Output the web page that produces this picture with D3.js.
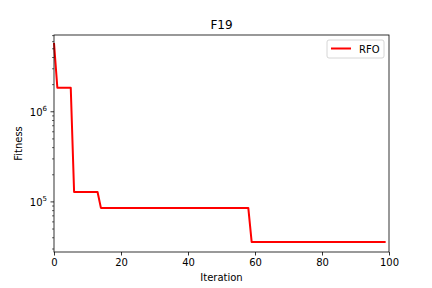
<!DOCTYPE html>
<html>
<head>
<meta charset="utf-8">
<script src="https://cdn.jsdelivr.net/npm/d3@7"></script>
<style>
  body { margin: 0; background: #fff; }
  svg text { font-family: "DejaVu Sans", sans-serif; fill: #000; }
</style>
</head>
<body>
<div id="chart"></div>
<script>
const width = 432, height = 288;
const margin = {left: 54, right: 43, top: 35, bottom: 36};

// fitness per iteration (0..99)
const rfo_fitness = [
  5.8e6,
  1.85e6, 1.85e6, 1.85e6, 1.85e6, 1.85e6,
  1.29e5, 1.29e5, 1.29e5, 1.29e5, 1.29e5, 1.29e5, 1.29e5, 1.29e5,
  8.58e4, 8.58e4, 8.58e4, 8.58e4, 8.58e4, 8.58e4, 8.58e4, 8.58e4, 8.58e4, 8.58e4,
  8.58e4, 8.58e4, 8.58e4, 8.58e4, 8.58e4, 8.58e4, 8.58e4, 8.58e4, 8.58e4, 8.58e4,
  8.58e4, 8.58e4, 8.58e4, 8.58e4, 8.58e4, 8.58e4, 8.58e4, 8.58e4, 8.58e4, 8.58e4,
  8.58e4, 8.58e4, 8.58e4, 8.58e4, 8.58e4, 8.58e4, 8.58e4, 8.58e4, 8.58e4, 8.58e4,
  8.58e4, 8.58e4, 8.58e4, 8.58e4, 8.58e4,
  3.6e4, 3.6e4, 3.6e4, 3.6e4, 3.6e4, 3.6e4, 3.6e4, 3.6e4, 3.6e4, 3.6e4,
  3.6e4, 3.6e4, 3.6e4, 3.6e4, 3.6e4, 3.6e4, 3.6e4, 3.6e4, 3.6e4, 3.6e4,
  3.6e4, 3.6e4, 3.6e4, 3.6e4, 3.6e4, 3.6e4, 3.6e4, 3.6e4, 3.6e4, 3.6e4,
  3.6e4, 3.6e4, 3.6e4, 3.6e4, 3.6e4, 3.6e4, 3.6e4, 3.6e4, 3.6e4, 3.6e4,
  3.6e4
];
const x_ticks = [0, 20, 40, 60, 80, 100];
const y_major = [1e5, 1e6];
const y_exp = ['5', '6'];
const y_minor = [3e4, 4e4, 5e4, 6e4, 7e4, 8e4, 9e4, 2e5, 3e5, 4e5, 5e5, 6e5, 7e5, 8e5, 9e5, 2e6, 3e6, 4e6, 5e6, 6e6, 7e6];

const svg = d3.select('#chart').append('svg')
  .attr('width', width).attr('height', height);

const x0 = margin.left, x1 = width - margin.right;
const y0 = height - margin.bottom, y1 = margin.top;

const xScale = d3.scaleLinear().domain([0, 100]).range([x0, x1]);
const yScale = d3.scaleLog().domain([Math.pow(10, 4.444), Math.pow(10, 6.852)]).range([y0, y1]);

// line
const line = d3.line()
  .x(function(d, i){ return xScale(i); })
  .y(function(d){ return yScale(d); });

svg.append('path')
  .datum(rfo_fitness)
  .attr('d', line)
  .attr('fill', 'none')
  .attr('stroke', '#ff0000')
  .attr('stroke-width', 2)
  .attr('stroke-linejoin', 'round');

// x axis
const xAxis = d3.axisBottom(xScale).tickValues(x_ticks).tickSize(3.5).tickPadding(3.5).tickFormat(d3.format('d'));
const gx = svg.append('g').attr('transform', 'translate(0,' + y0 + ')').call(xAxis);
gx.select('.domain').remove();
gx.selectAll('line').attr('stroke', '#000').attr('stroke-width', 0.8);
gx.selectAll('text').attr('font-size', 10).attr('font-family', 'DejaVu Sans');

// y axis minor
svg.append('g').selectAll('.minor')
  .data(y_minor.filter(function(v){ return yScale(v) <= y0 && yScale(v) >= y1; }))
  .enter().append('line')
  .attr('x1', x0).attr('x2', x0 - 2)
  .attr('y1', function(d){ return yScale(d); })
  .attr('y2', function(d){ return yScale(d); })
  .attr('stroke', '#000').attr('stroke-width', 0.6);

// y axis major
const gy = svg.append('g');
gy.selectAll('.major').data(y_major).enter().append('line')
  .attr('x1', x0).attr('x2', x0 - 3.5)
  .attr('y1', function(d){ return yScale(d); })
  .attr('y2', function(d){ return yScale(d); })
  .attr('stroke', '#000').attr('stroke-width', 0.8);
const lbl = gy.selectAll('.lbl').data(y_major).enter().append('text')
  .attr('x', x0 - 7)
  .attr('y', function(d){ return yScale(d) + 4; })
  .attr('text-anchor', 'end')
  .attr('font-size', 10);
lbl.append('tspan').text('10');
lbl.append('tspan').attr('dy', -5).attr('font-size', 7).text(function(d, i){ return y_exp[i]; });

// frame
svg.append('rect')
  .attr('x', x0).attr('y', y1)
  .attr('width', x1 - x0).attr('height', y0 - y1)
  .attr('fill', 'none').attr('stroke', '#000').attr('stroke-width', 0.8);

// labels
svg.append('text').attr('x', (x0 + x1) / 2).attr('y', 29)
  .attr('text-anchor', 'middle').attr('font-size', 12).text('F19');
svg.append('text').attr('x', (x0 + x1) / 2).attr('y', 281)
  .attr('text-anchor', 'middle').attr('font-size', 10).text('Iteration');
svg.append('text')
  .attr('transform', 'translate(22,' + ((y0 + y1) / 2) + ') rotate(-90)')
  .attr('text-anchor', 'middle').attr('font-size', 10).text('Fitness');

// legend
const lg = svg.append('g');
lg.append('rect').attr('x', 327).attr('y', 40).attr('width', 57).attr('height', 18)
  .attr('rx', 2).attr('fill', '#fff').attr('stroke', '#cccccc').attr('stroke-width', 0.8);
lg.append('line').attr('x1', 331).attr('x2', 351).attr('y1', 48.5).attr('y2', 48.5)
  .attr('stroke', '#ff0000').attr('stroke-width', 2);
lg.append('text').attr('x', 359).attr('y', 52.5).attr('font-size', 10).text('RFO');
</script>
</body>
</html>
